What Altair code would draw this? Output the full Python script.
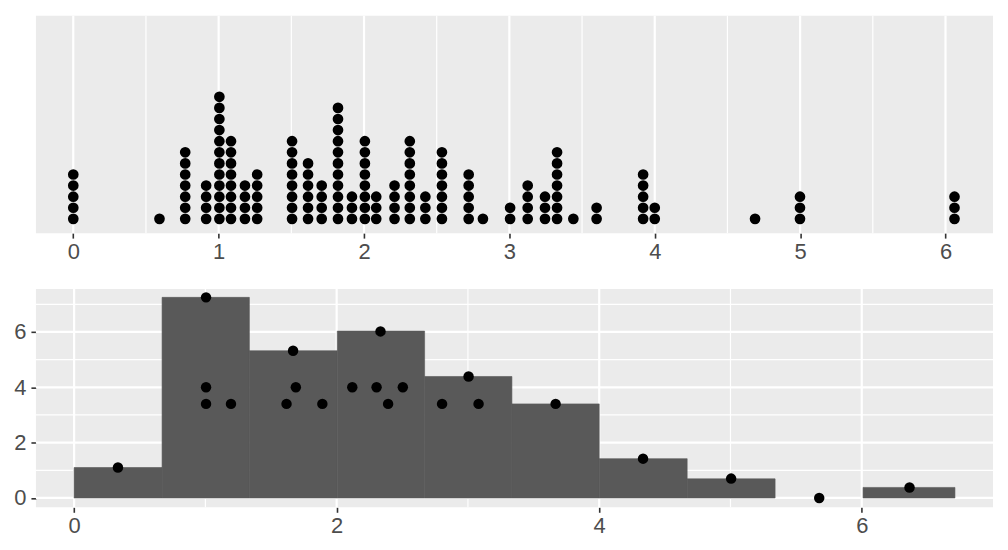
import altair as alt
import pandas as pd

# ---------------- top panel: dot plot ----------------
dot_x = [0.0, 0.593, 0.77, 0.914, 1.005, 1.085, 1.181, 1.265, 1.505, 1.615,
         1.709, 1.821, 1.917, 2.006, 2.084, 2.21, 2.315, 2.422, 2.536, 2.72,
         2.818, 3.005, 3.126, 3.245, 3.328, 3.44, 3.6, 3.92, 4.0, 4.69,
         4.999, 6.062]
dot_count = [5, 1, 7, 4, 12, 8, 4, 5, 8, 6,
             4, 11, 3, 8, 3, 4, 8, 3, 7, 5,
             1, 2, 4, 3, 7, 1, 2, 5, 2, 1,
             3, 3]
top_major = [0, 1, 2, 3, 4, 5, 6]
top_minor = [0.5, 1.5, 2.5, 3.5, 4.5, 5.5]

# ---------------- bottom panel: histogram + points ----------------
bar_start = [0.0, 0.67, 1.335, 2.005, 2.67, 3.335, 4.0, 4.67, 5.34, 6.01]
bar_end = [0.67, 1.335, 2.005, 2.67, 3.335, 4.0, 4.67, 5.34, 6.01, 6.71]
bar_height = [1.10, 7.25, 5.32, 6.03, 4.39, 3.40, 1.42, 0.69, 0.0, 0.38]

pt_x = [0.334, 1.005, 1.668, 2.334, 3.005, 3.668, 4.334, 5.005, 5.676, 6.364,
        1.005, 1.005, 1.195, 1.618, 1.689, 1.891, 2.119, 2.304, 2.392, 2.504,
        2.803, 3.081]
pt_y = [1.10, 7.25, 5.32, 6.02, 4.39, 3.40, 1.42, 0.70, 0.0, 0.38,
        4.0, 3.40, 3.40, 3.40, 4.0, 3.40, 4.0, 4.0, 3.40, 4.0,
        3.40, 3.40]
bot_x_major = [0, 2, 4, 6]
bot_x_minor = [1, 3, 5]
bot_y_major = [0, 2, 4, 6]
bot_y_minor = [1, 3, 5, 7]

FONT = "Liberation Sans"
LABEL_COLOR = "#4D4D4D"
TICK_COLOR = "#333333"
BAR_COLOR = "#595959"
PANEL = "#EBEBEB"
MAJOR_W = 2.2
MINOR_W = 1.2

rows = [{"x": x, "k": k} for x, c in zip(dot_x, dot_count) for k in range(c)]
dots = pd.DataFrame(rows)


def xaxis(values):
    return alt.Axis(values=values, grid=False, title=None, domain=False,
                    labelFont=FONT, labelFontSize=22, labelColor=LABEL_COLOR,
                    tickColor=TICK_COLOR, tickSize=5, tickWidth=1.6,
                    labelPadding=3, format="d")


def yaxis(values):
    return alt.Axis(values=values, grid=False, title=None, domain=False,
                    labelFont=FONT, labelFontSize=22, labelColor=LABEL_COLOR,
                    tickColor=TICK_COLOR, tickSize=5, tickWidth=1.6,
                    labelPadding=5, format="d")


X_TOP = alt.Scale(domain=[-0.257, 6.327], nice=False, zero=False)
Y_TOP = alt.Scale(domain=[-1.285, 18.30], nice=False, zero=False)

top_minor_rules = alt.Chart(pd.DataFrame({"x": top_minor})).mark_rule(
    color="white", strokeWidth=MINOR_W).encode(
    x=alt.X("x:Q", scale=X_TOP, axis=xaxis(top_major)))
top_major_rules = alt.Chart(pd.DataFrame({"x": top_major})).mark_rule(
    color="white", strokeWidth=MAJOR_W).encode(
    x=alt.X("x:Q", scale=X_TOP, axis=xaxis(top_major)))
top_dots = alt.Chart(dots).mark_circle(color="black", opacity=1, size=115).encode(
    x=alt.X("x:Q", scale=X_TOP, axis=xaxis(top_major)),
    y=alt.Y("k:Q", scale=Y_TOP, axis=None))

top = alt.layer(top_minor_rules, top_major_rules, top_dots).properties(
    width=960, height=218)

X_BOT = alt.Scale(domain=[-0.291, 7.0], nice=False, zero=False)
Y_BOT = alt.Scale(domain=[-0.338, 7.554], nice=False, zero=False)

bars = pd.DataFrame({"x0": bar_start, "x1": bar_end, "h": bar_height})
pts = pd.DataFrame({"x": pt_x, "y": pt_y})

bx_minor = alt.Chart(pd.DataFrame({"x": bot_x_minor})).mark_rule(
    color="white", strokeWidth=MINOR_W).encode(
    x=alt.X("x:Q", scale=X_BOT, axis=xaxis(bot_x_major)))
bx_major = alt.Chart(pd.DataFrame({"x": bot_x_major})).mark_rule(
    color="white", strokeWidth=MAJOR_W).encode(
    x=alt.X("x:Q", scale=X_BOT, axis=xaxis(bot_x_major)))
by_minor = alt.Chart(pd.DataFrame({"y": bot_y_minor})).mark_rule(
    color="white", strokeWidth=MINOR_W).encode(
    y=alt.Y("y:Q", scale=Y_BOT, axis=yaxis(bot_y_major)))
by_major = alt.Chart(pd.DataFrame({"y": bot_y_major})).mark_rule(
    color="white", strokeWidth=MAJOR_W).encode(
    y=alt.Y("y:Q", scale=Y_BOT, axis=yaxis(bot_y_major)))
bar_layer = alt.Chart(bars).mark_rect(
    color=BAR_COLOR, stroke=BAR_COLOR, strokeWidth=0.6).encode(
    x=alt.X("x0:Q", scale=X_BOT, axis=xaxis(bot_x_major)),
    x2="x1:Q",
    y=alt.Y("zero:Q", scale=Y_BOT, axis=yaxis(bot_y_major)),
    y2="h:Q").transform_filter("datum.h > 0").transform_calculate(zero="0")
pt_layer = alt.Chart(pts).mark_circle(color="black", opacity=1, size=110).encode(
    x=alt.X("x:Q", scale=X_BOT, axis=xaxis(bot_x_major)),
    y=alt.Y("y:Q", scale=Y_BOT, axis=yaxis(bot_y_major)))

bottom = alt.layer(bx_minor, bx_major, by_minor, by_major, bar_layer, pt_layer).properties(
    width=960, height=219)

chart = alt.vconcat(top, bottom, spacing=25).configure_view(
    fill=PANEL, stroke=None)

chart.save("out.html", embed_options={"renderer": "svg", "actions": False})
